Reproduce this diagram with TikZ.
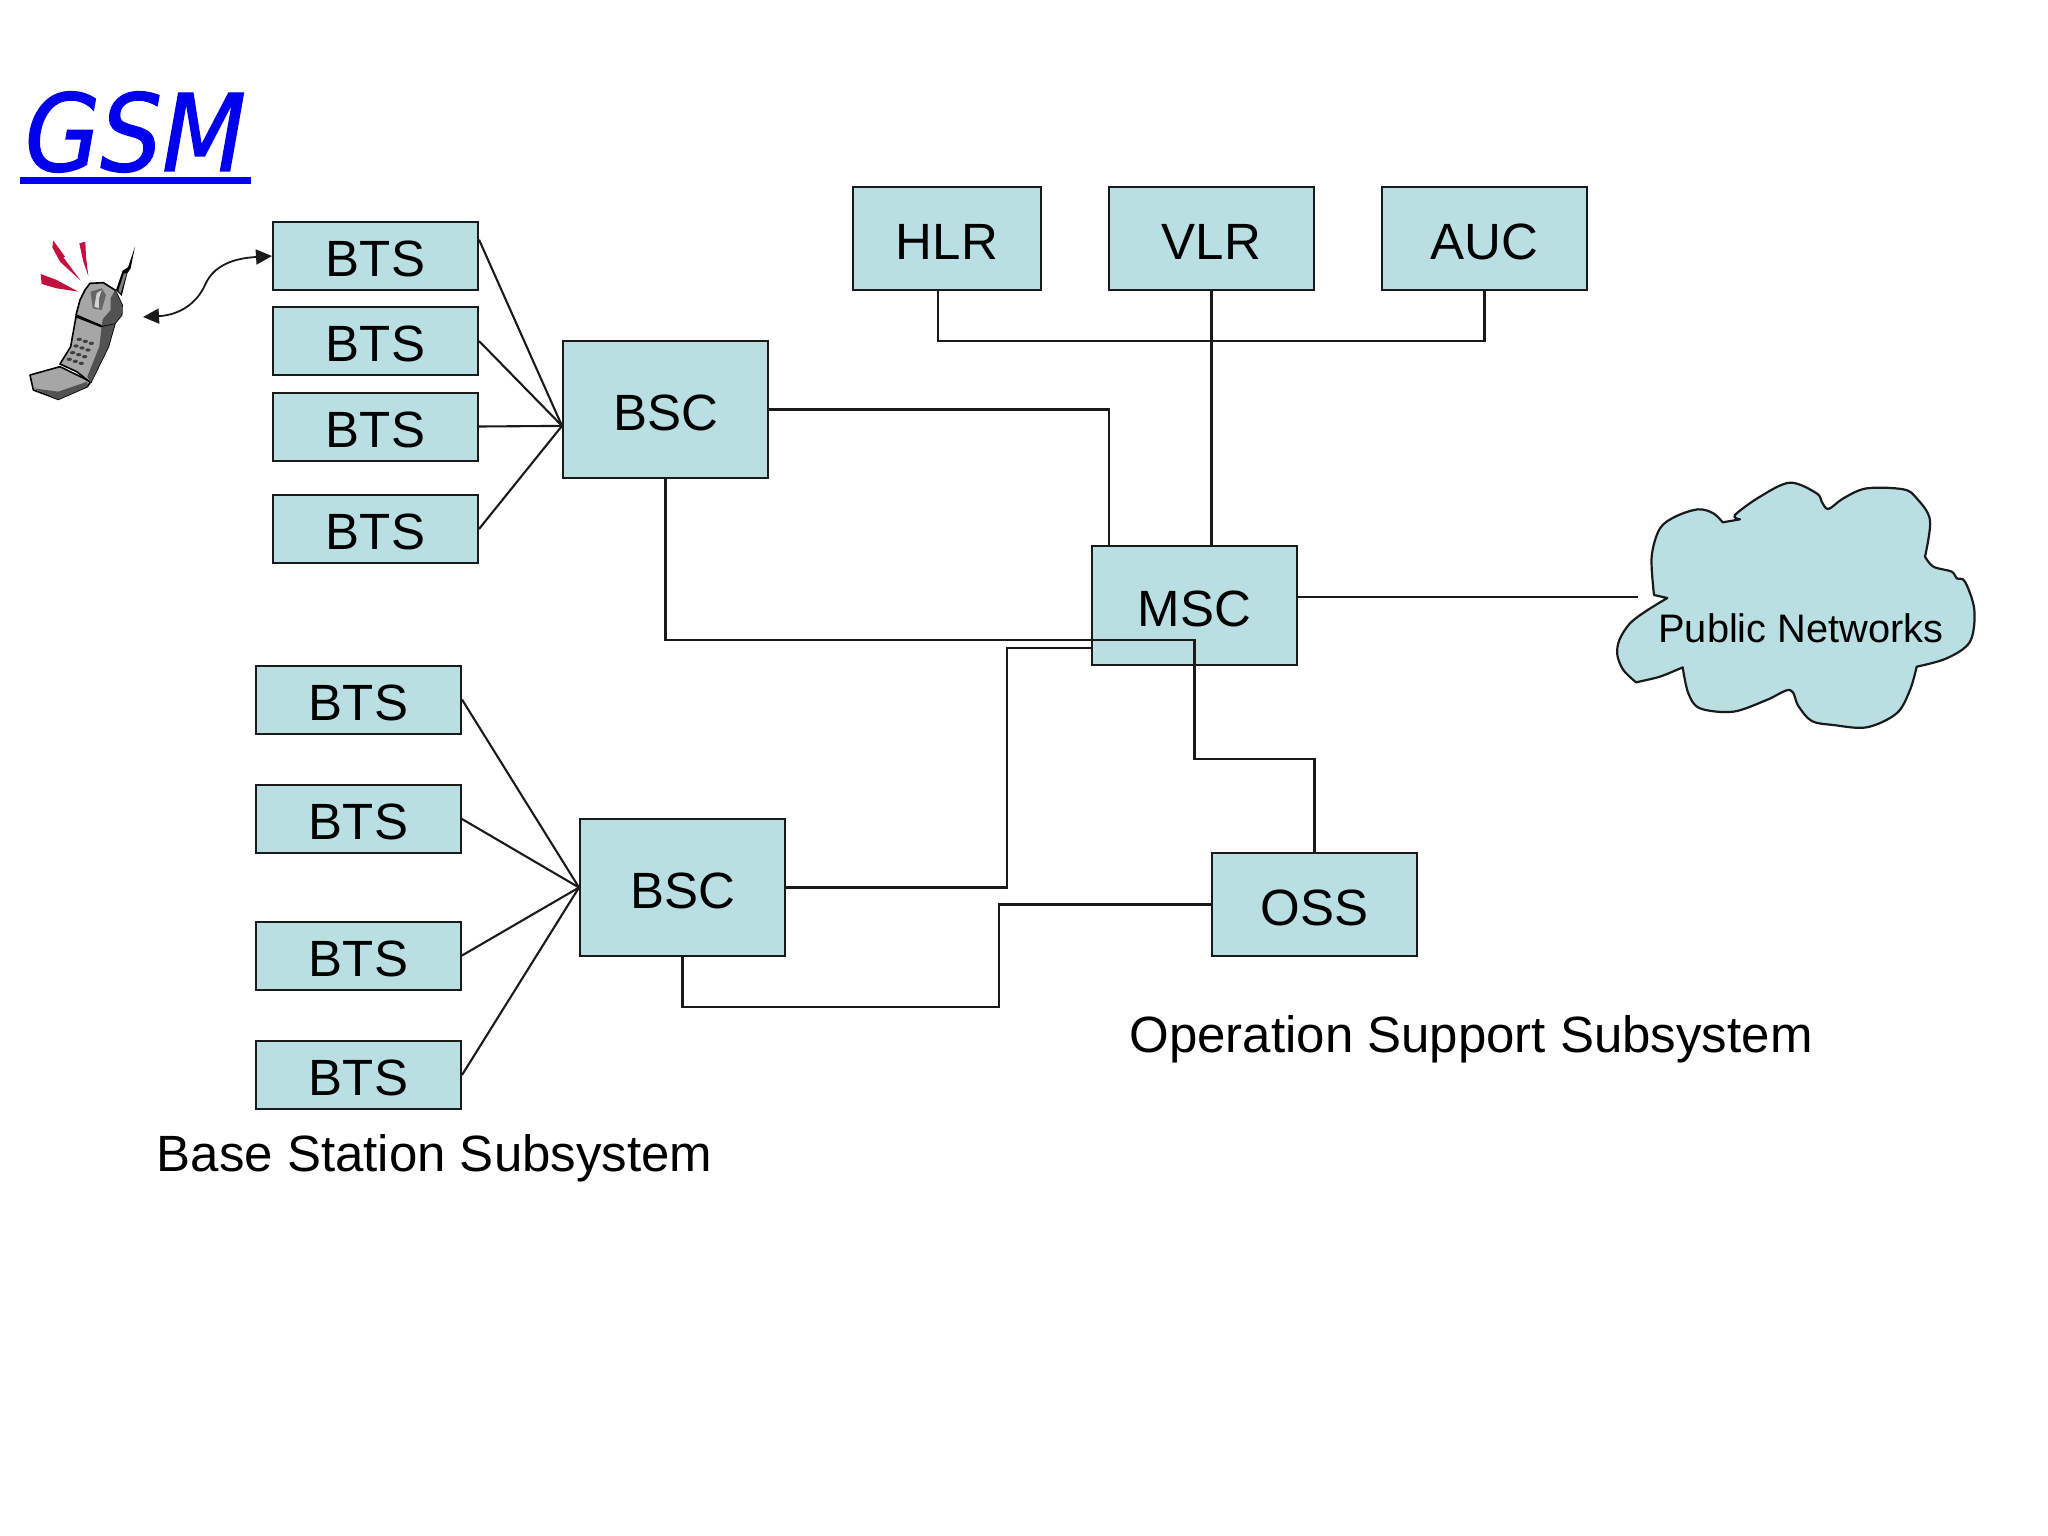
\documentclass[tikz,border=0pt]{standalone}
\usepackage{fontspec}
\setmainfont{Liberation Sans}
\newfontfamily\titlefont[FakeBold=1.2]{DejaVu Sans}
\usepackage{xcolor}
\usepackage{tikz}
\usetikzlibrary{arrows.meta}
\definecolor{boxfill}{HTML}{B9DFE3}
\definecolor{boxline}{HTML}{1A1A1A}
\definecolor{titleblue}{HTML}{0000EE}
\definecolor{sparkred}{HTML}{C4103C}

\begin{document}
\begin{tikzpicture}[x=1pt, y=-1pt,
    unit/.style={draw=boxline, line width=2pt, fill=boxfill, inner sep=0pt, font=\fontsize{51}{51}\selectfont, text=black, text height=41.6pt, text depth=0pt},
    bts/.style={unit, minimum width=205pt, minimum height=68pt},
    bsc/.style={unit, minimum width=205pt, minimum height=137pt},
    db/.style={unit, minimum height=103pt},
    link/.style={draw=boxline, line width=2.1pt},
    caption/.style={font=\fontsize{51}{51}\selectfont, text=black, inner sep=0pt, anchor=base},
    cloudshape/.style={draw=boxline, line width=2.2pt, fill=boxfill, line join=round},
    spark/.style={fill=sparkred},
    phonebody/.style={draw=black, line width=1.6pt, fill=gray!70, line join=round},
    phonedark/.style={fill=black!68}]
    \useasboundingbox (0,0) rectangle (2048,1536);

    % Title
    \node[font=\titlefont\fontsize{107}{107}\selectfont\itshape, text=titleblue, inner sep=0pt, minimum width=231pt, minimum height=90pt] (gsm) at (135.5,132) {\scalebox{0.91}[1]{GSM}};
    \draw[titleblue, line width=7pt] ([yshift=-3.5pt]gsm.south west) -- ([yshift=-3.5pt]gsm.south east);

    % Handset
    \begin{scope}[shift={(0,60)}, scale=1/3]
        \fill[spark] (160,542) -- (195,590) -- (190,592) -- (242,662) -- (180,605) -- (157,562) -- cycle;
        \fill[spark] (238,550) -- (256,545) -- (258,590) -- (265,648) -- (250,605) -- cycle;
        \fill[spark] (122,642) -- (170,660) -- (235,695) -- (170,685) -- (125,672) -- cycle;
        \fill[black] (405,560) -- (392,625) -- (382,640) -- (365,708) -- (348,690) -- (368,632) -- (384,622) -- cycle;
        \fill[gray] (380,640) -- (362,700) -- (355,692) -- (372,640) -- cycle;
        % base
        \draw[phonebody] (90,945) -- (180,920) -- (272,965) -- (262,980) -- (175,1018) -- (100,990) -- cycle;
        \fill[phonedark] (100,985) -- (175,995) -- (262,965) -- (262,980) -- (175,1018) -- cycle;
        % keypad part
        \draw[phonebody] (228,770) -- (305,800) -- (345,790) -- (325,860) -- (272,968) -- (230,935) -- (180,912) -- (212,860) -- cycle;
        \fill[phonedark] (305,800) -- (345,790) -- (325,860) -- (272,968) -- (262,950) -- (298,860) -- cycle;
        \foreach \r in {0,1,2,3}{
            \foreach \c in {0,1,2}{
                \fill[black!75] ({238+\c*18-\r*10},{838+\c*6+\r*20}) ellipse (8 and 5);
            }
        }
        % flip part
        \draw[phonebody] (270,670) -- (310,668) -- (345,690) -- (366,735) -- (365,765) -- (345,790) -- (305,798) -- (228,765) -- (240,720) -- (255,690) -- cycle;
        \fill[phonedark] (345,690) -- (366,735) -- (365,765) -- (345,790) -- (305,798) -- (308,778) -- (332,750) -- (332,715) -- cycle;
        \fill[black!60] (272,695) -- (305,685) -- (318,705) -- (305,750) -- (278,745) -- cycle;
        \fill[gray!35] (283,740) -- (290,700) -- (305,690) -- (297,715) -- (297,745) -- cycle;
    \end{scope}

    % BTS boxes, upper group
    \foreach \i/\y in {1/256,2/341,3/426.5,4/529}{
        \node[bts] (ua\i) at (375.5,\y) {BTS};
    }
    \node[bsc] (bsca) at (665.5,409.5) {BSC};

    % BTS boxes, lower group
    \foreach \i/\y in {1/699.5,2/819,3/955.5,4/1075}{
        \node[bts] (lo\i) at (358.5,\y) {BTS};
    }
    \node[bsc] (bscb) at (682.5,887.5) {BSC};

    % Core
    \node[db, minimum width=188pt] (hlr) at (947,238.5) {HLR};
    \node[db, minimum width=205pt] (vlr) at (1211.5,238.5) {VLR};
    \node[db, minimum width=205pt] (auc) at (1484.5,238.5) {AUC};
    \node[unit, minimum width=205pt, minimum height=119pt] (msc) at (1194.5,605.5) {MSC};
    \node[db, minimum width=205pt] (oss) at (1314.5,904.5) {OSS};

    % Public network
    \begin{scope}[shift={(1580,460)}, scale=1/3]
        \draw[cloudshape] plot[smooth, tension=0.55] coordinates {(262,414) (200,452) (150,490) (118,540) (112,585) (130,630) (168,667)}
            -- plot[smooth, tension=0.4] coordinates {(168,667) (240,650) (308,622)}
            -- plot[smooth, tension=0.55] coordinates {(308,622) (325,700) (360,745) (460,755) (560,720) (630,690) (655,738) (695,783) (760,795) (860,802) (950,760) (990,690) (1010,620)}
            -- plot[smooth, tension=0.55] coordinates {(1010,620) (1100,595) (1170,545) (1183,450) (1155,365) (1130,355) (1115,335) (1060,320) (1035,290)}
            -- plot[smooth, tension=0.55] coordinates {(1035,290) (1050,180) (1010,115) (970,88) (860,85) (790,115) (745,147) (725,125) (710,100) (630,68) (540,110) (465,165) (480,178)}
            -- (428,187)
            -- plot[smooth, tension=0.55] coordinates {(428,187) (400,160) (355,148) (290,168) (240,205) (215,290) (222,405)}
            -- cycle;
    \end{scope}
    \node[caption, font=\fontsize{39.8}{40}\selectfont] (pub) at (1801,642) {Public Networks};
    \coordinate (pubend) at (1638,597);

    % Captions
    \node[caption] (bss) at (434.5,1171) {Base Station Subsystem};
    \node[caption] (osscap) at (1471,1052) {Operation Support Subsystem};

    % Radio link
    \coordinate (phonetip) at (143,317);
    \draw[link, line width=1.8pt, {Triangle[length=16pt,width=15pt]}-{Triangle[length=16pt,width=15pt]}] (phonetip) .. controls (180,315) and (197,303) .. (205,285) .. controls (215,262) and (240,258) .. (ua1.west);

    % BTS to BSC
    \draw[link] (ua1.9) -- (bsca.189);
    \draw[link] (ua2.east) -- (bsca.189);
    \draw[link] (ua3.east) -- (bsca.189);
    \draw[link] (ua4.east) -- (bsca.189);
    \foreach \i in {1,2,3,4}{
        \draw[link] (lo\i.east) -- (bscb.west);
    }

    % Links to the MSC
    \draw[link] ([xshift=-9pt]hlr.south) |- (auc.south |- 0,341) -- (auc.south);
    \draw[link] (vlr.south) -- (msc.north -| vlr.south);
    \draw[link] (bsca.east) -| (msc.north -| 1109,0);
    \draw[link] (bsca.south) |- (1194.5,640) -- (1194.5,759) -| (oss.north);
    \draw[link] (bscb.east) -| (1007,648) -- (msc.west |- 0,648);
    \draw[link] (oss.west) -| (999,1007) -| (bscb.south);
    \draw[link] (msc.east |- pubend) -- (pubend);
\end{tikzpicture}
\end{document}
